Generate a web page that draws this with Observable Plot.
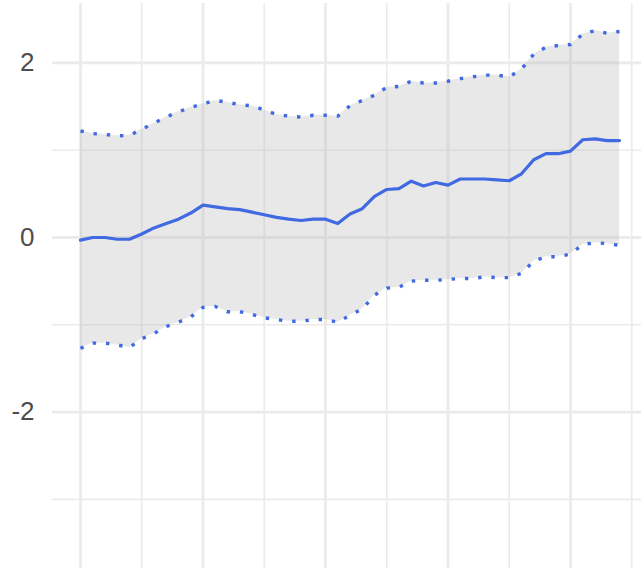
<!DOCTYPE html>
<html>
<head>
<meta charset="utf-8">
<script src="https://cdn.jsdelivr.net/npm/d3@7"></script>
<script src="https://cdn.jsdelivr.net/npm/@observablehq/plot@0.6"></script>
<style>
  html, body { margin: 0; padding: 0; background: #fff; }
  #chart svg { display: block; }
</style>
</head>
<body>
<div id="chart"></div>
<script>
const meanValues = [
  -0.03, 0.00, 0.00, -0.02, -0.02, 0.04, 0.11, 0.16, 0.21, 0.28,
  0.37, 0.35, 0.33, 0.32, 0.29, 0.26, 0.23, 0.21, 0.195, 0.21,
  0.21, 0.16, 0.27, 0.33, 0.47, 0.55, 0.56, 0.645, 0.59, 0.63,
  0.60, 0.67, 0.67, 0.67, 0.66, 0.65, 0.73, 0.89, 0.96, 0.96,
  0.99, 1.12, 1.13, 1.11, 1.11
];
const upperValues = [
  1.22, 1.19, 1.18, 1.165, 1.17, 1.24, 1.31, 1.38, 1.44, 1.49,
  1.53, 1.57, 1.55, 1.52, 1.51, 1.46, 1.41, 1.39, 1.38, 1.40,
  1.40, 1.39, 1.51, 1.57, 1.63, 1.72, 1.73, 1.79, 1.77, 1.77,
  1.79, 1.82, 1.84, 1.86, 1.86, 1.84, 1.93, 2.10, 2.18, 2.20,
  2.21, 2.33, 2.37, 2.34, 2.36
];
const lowerValues = [
  -1.27, -1.21, -1.21, -1.23, -1.26, -1.16, -1.10, -1.02, -0.97, -0.91,
  -0.80, -0.79, -0.85, -0.85, -0.88, -0.92, -0.94, -0.96, -0.96, -0.94,
  -0.94, -0.97, -0.89, -0.82, -0.66, -0.58, -0.57, -0.50, -0.49, -0.49,
  -0.48, -0.47, -0.47, -0.45, -0.46, -0.46, -0.41, -0.27, -0.22, -0.22,
  -0.19, -0.08, -0.06, -0.07, -0.09
];
const yMajorTicks = [-2, 0, 2];
const yMinorTicks = [-3, -1, 1];
const xMajorTicks = [0, 10, 20, 30, 40];
const xMinorTicks = [5, 15, 25, 35, 45];

const data = meanValues.map((m, i) => ({ x: i, mean: m, upper: upperValues[i], lower: lowerValues[i] }));

const grid = "#EBEBEB";
const blue = "#4169E1";

const chart = Plot.plot({
  width: 641,
  height: 568,
  marginLeft: 52,
  marginTop: 3,
  marginRight: 0,
  marginBottom: 0,
  style: { fontFamily: "'Liberation Sans', Arial, sans-serif", background: "#fff" },
  x: { domain: [-28 / 12.25, 561 / 12.25], axis: null },
  y: { domain: [-331 / 87.3, 234 / 87.3], axis: null },
  marks: [
    Plot.ruleY(yMinorTicks, { stroke: grid, strokeWidth: 1.6 }),
    Plot.ruleX(xMinorTicks, { stroke: grid, strokeWidth: 1.6 }),
    Plot.ruleY(yMajorTicks, { stroke: grid, strokeWidth: 2.8 }),
    Plot.ruleX(xMajorTicks, { stroke: grid, strokeWidth: 2.8 }),
    Plot.areaY(data, { x: "x", y1: "lower", y2: "upper", fill: "#b3b3b3", fillOpacity: 0.3 }),
    Plot.line(data, { x: "x", y: "upper", stroke: blue, strokeWidth: 3.4, strokeDasharray: "3.4 9.9", strokeLinecap: "butt" }),
    Plot.line(data, { x: "x", y: "lower", stroke: blue, strokeWidth: 3.4, strokeDasharray: "3.4 9.9", strokeLinecap: "butt" }),
    Plot.line(data, { x: "x", y: "mean", stroke: blue, strokeWidth: 3.2 }),
    Plot.axisY(yMajorTicks, {
      tickSize: 0,
      tickPadding: 18,
      tickFormat: d => d < 0 ? "-" + Math.abs(d) : String(d),
      fontSize: 26,
      fill: "#4D4D4D",
      label: null
    })
  ]
});
document.getElementById("chart").appendChild(chart);
</script>
</body>
</html>
